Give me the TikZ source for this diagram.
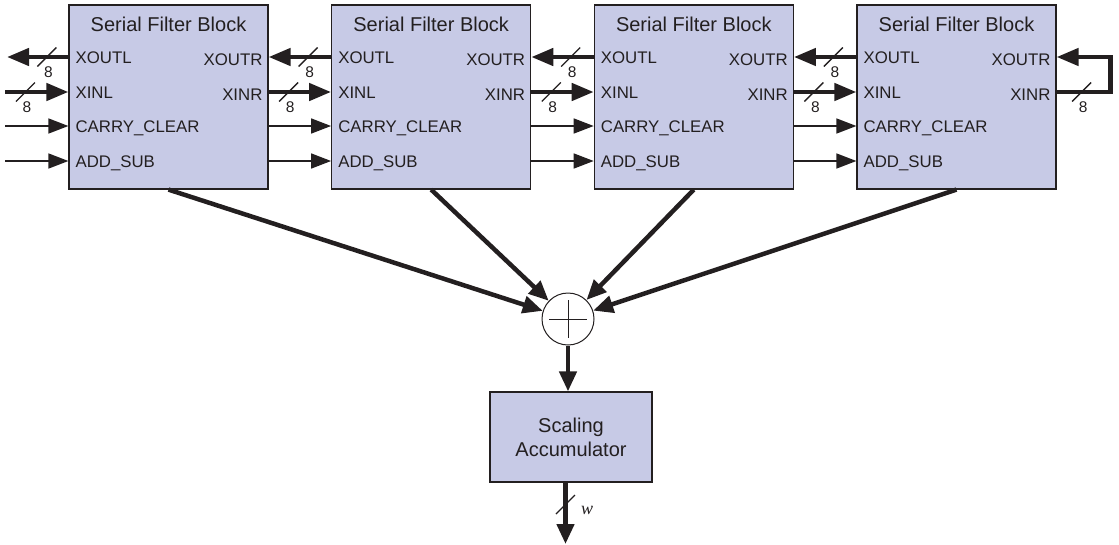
\documentclass[tikz,border=0pt]{standalone}
\usepackage{fontspec}
\setmainfont{Liberation Sans}
\newfontfamily\serifit{Liberation Serif}
\usetikzlibrary{arrows.meta,calc}
\definecolor{blkfill}{RGB}{199,202,230}
\definecolor{ink}{RGB}{35,31,32}
\begin{document}
\begin{tikzpicture}[x=1pt,y=-1pt,
  blk/.style={draw=ink,line width=1.2pt,fill=blkfill,minimum width=199pt,minimum height=184pt,inner sep=0pt},
  ttl/.style={font=\fontsize{20}{24}\selectfont,text=ink},
  port/.style={font=\fontsize{16.8}{20}\selectfont,text=ink,text height=12pt,text depth=0pt,inner sep=0pt},
  bus/.style={draw=ink,line width=4.5pt,-{Triangle[length=22pt,width=17pt]}},
  sig/.style={draw=ink,line width=1.5pt,-{Triangle[length=20pt,width=15pt]}},
  sumarrow/.style={draw=ink,line width=4.5pt,-{Triangle[length=20pt,width=17pt]}},
  buslbl/.style={font=\fontsize{15.5}{18}\selectfont,text=ink,inner sep=0pt},
  pics/slashmark/.style={code={\draw[ink,line width=1.3pt] (-9.5,9.5) -- (9.5,-9.5);}},
  pics/busmark/.style={code={\draw[ink,line width=1.3pt] (-9.5,9.5) -- (9.5,-9.5); \node[buslbl] at (1.5,15) {#1};}}
]
\useasboundingbox (0,0) rectangle (1119,544);

% blocks
\foreach \i/\x in {1/168.5,2/431.2,3/693.8,4/956.5}{
  \node[blk] (b\i) at (\x,97) {};
  \node[ttl] (t\i) at ($(b\i.north)+(0,20)$) {Serial Filter Block};
  \coordinate (w\i1) at (b\i.west |- 0,57);
  \coordinate (w\i2) at (b\i.west |- 0,92);
  \coordinate (w\i3) at (b\i.west |- 0,126);
  \coordinate (w\i4) at (b\i.west |- 0,161);
  \coordinate (e\i1) at (b\i.east |- 0,57);
  \coordinate (e\i2) at (b\i.east |- 0,92);
  \coordinate (e\i3) at (b\i.east |- 0,126);
  \coordinate (e\i4) at (b\i.east |- 0,161);
  \node[port,anchor=west] (pxl\i) at ($(w\i1)+(7,0)$) {XOUTL};
  \node[port,anchor=west] (pil\i) at ($(w\i2)+(7,0)$) {XINL};
  \node[port,anchor=west] (pcc\i) at ($(w\i3)+(7,0)$) {CARRY\_CLEAR};
  \node[port,anchor=west] (pas\i) at ($(w\i4)+(7,0)$) {ADD\_SUB};
  \node[port,anchor=east] (pxr\i) at ($(e\i1)+(-6,2)$) {XOUTR};
  \node[port,anchor=east] (pir\i) at ($(e\i2)+(-6,2)$) {XINR};
}

% left free ends
\coordinate (o1) at (7,57);
\coordinate (i1) at (5,92);
\coordinate (c1) at (5,126);
\coordinate (a1) at (5,161);
\draw[bus] (w11) -- (o1);
\path ($(w11)!21.5pt!(o1)$) pic{busmark=8};
\draw[bus] (i1) -- (w12);
\path ($(i1)!20.5pt!(w12)$) pic{busmark=8};
\draw[sig] (c1) -- (w13);
\draw[sig] (a1) -- (w14);

% between blocks
\foreach \i/\j in {1/2,2/3,3/4}{
  \draw[bus] (w\j1) -- (e\i1);
  \path ($(w\j1)!23pt!(e\i1)$) pic{busmark=8};
  \draw[bus] (e\i2) -- (w\j2);
  \path ($(e\i2)!20pt!(w\j2)$) pic{busmark=8};
  \draw[sig] (e\i3) -- (w\j3);
  \draw[sig] (e\i4) -- (w\j4);
}

% loop on last block
\draw[bus] (e42) -- ++(54,0) |- (e41);
\path ($(e42)+(25,0)$) pic{busmark=8};

% summation
\node[draw=ink,circle,line width=1pt,minimum size=52pt,inner sep=0pt,fill=white] (sum) at (568,319) {};
\draw[ink,line width=1pt] ($(sum.center)+(-19,0)$) -- ($(sum.center)+(19,0)$);
\draw[ink,line width=1pt] ($(sum.center)+(0,-19)$) -- ($(sum.center)+(0,19)$);
\foreach \i in {1,...,4}{
  \draw[sumarrow] (b\i.south) -- (sum);
}

% accumulator
\node[blk,minimum width=162pt,minimum height=90pt,align=center,ttl] (acc) at (571,437) {Scaling\\Accumulator};
\draw[sumarrow] (sum.south) -- (sum.south |- acc.north);

% output
\coordinate (out) at (565.5,544);
\draw[sumarrow] (acc.south -| out) -- (out);
\path (565.5,504.5) pic{slashmark};
\node[font=\serifit\itshape\fontsize{18}{20}\selectfont,text=ink,inner sep=0pt] (wlbl) at (587,510) {w};
\end{tikzpicture}
\end{document}
